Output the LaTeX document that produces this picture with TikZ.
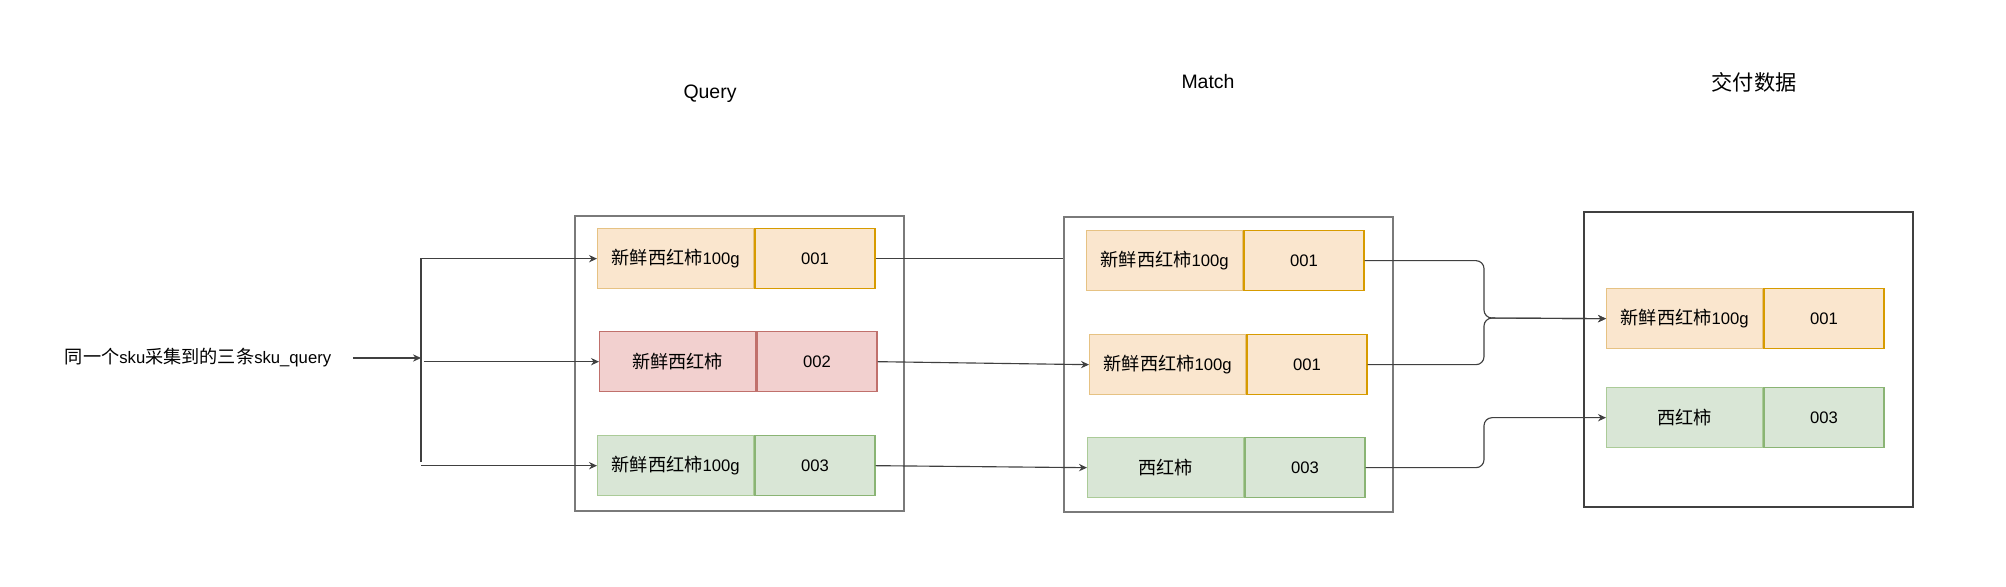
\documentclass[tikz,border=0pt]{standalone}
\usepackage{fontspec}
\setmainfont{Liberation Sans}
\newfontfamily\cjk[Scale=1.09]{Noto Sans CJK SC}
\newcommand{\zh}[1]{{\cjk #1}}
\usetikzlibrary{arrows.meta,positioning}

\definecolor{orfill}{HTML}{FAE6CE}
\definecolor{ordraw}{HTML}{D79B00}
\definecolor{orlite}{HTML}{E6C283}
\definecolor{rdfill}{HTML}{F2D0CF}
\definecolor{rddraw}{HTML}{C0706C}
\definecolor{gnfill}{HTML}{D9E6D6}
\definecolor{gndraw}{HTML}{8AB474}
\definecolor{gnlite}{HTML}{ABCB98}
\definecolor{boxgray}{HTML}{7A7A7A}

\tikzset{
  txt/.style={font=\fontsize{12.5}{15}\selectfont},
  head/.style={font=\fontsize{14.6}{17}\selectfont},
  frame/.style={draw=boxgray,line width=1.5pt,minimum width=246.75pt,
    minimum height=221.25pt,anchor=north west,inner sep=0pt},
  cell/.style={txt,line width=1pt,minimum height=45pt,inner sep=0pt},
  namecell/.style={cell,minimum width=117pt,anchor=north west},
  idcell/.style={cell,minimum width=90pt,right=0pt of #1},
  orname/.style={namecell,fill=orfill,draw=orlite},
  orid/.style={idcell=#1,fill=orfill,draw=ordraw},
  rdname/.style={namecell,fill=rdfill,draw=rddraw},
  rdid/.style={idcell=#1,fill=rdfill,draw=rddraw},
  gnname/.style={namecell,fill=gnfill,draw=gnlite},
  gnid/.style={idcell=#1,fill=gnfill,draw=gndraw},
  conn/.style={draw=black!75,line width=0.85pt},
  arr/.style={conn,-{Stealth[length=6pt,width=5.5pt]}}
}

\begin{document}
\begin{tikzpicture}[x=0.75pt,y=-0.75pt]
  \useasboundingbox (0,0) rectangle (2006,586);

  % headings and source label
  \node[head] (qhead) at (710,94) {Query};
  \node[head] (mhead) at (1208,82) {Match};
  \node[head] (dhead) at (1754,82) {\zh{交付数据}};
  \node[txt,minimum width=232pt] (src) at (198,358) {\zh{同一个}sku\zh{采集到的三条}sku\_query};

  % group frames
  \node[frame] (qbox) at (574,215) {};
  \node[frame] (mbox) at (1063,216) {};
  \node[frame,draw=black!75,line width=1.2pt] (dbox) at (1583,211) {};

  % Query
  \node[orname] (q1n) at (597,228) {\zh{新鲜西红柿}100g};
  \node[orid=q1n] (q1i) {001};
  \node[rdname] (q2n) at (599,331) {\zh{新鲜西红柿}};
  \node[rdid=q2n] (q2i) {002};
  \node[gnname] (q3n) at (597,435) {\zh{新鲜西红柿}100g};
  \node[gnid=q3n] (q3i) {003};

  % Match
  \node[orname] (m1n) at (1086,230) {\zh{新鲜西红柿}100g};
  \node[orid=m1n] (m1i) {001};
  \node[orname] (m2n) at (1089,334) {\zh{新鲜西红柿}100g};
  \node[orid=m2n] (m2i) {001};
  \node[gnname] (m3n) at (1087,437) {\zh{西红柿}};
  \node[gnid=m3n] (m3i) {003};

  % delivered data
  \node[orname] (d1n) at (1606,288) {\zh{新鲜西红柿}100g};
  \node[orid=d1n] (d1i) {001};
  \node[gnname] (d2n) at (1606,387) {\zh{西红柿}};
  \node[gnid=d2n] (d2i) {003};

  % connectors
  \coordinate (bus) at (421,258);
  \coordinate (busend) at (421,462);
  \coordinate (jnc) at (1484,318);
  \draw[arr] (src.east) -- (bus |- src.east);
  \draw[conn] (bus) -- (busend);
  \draw[arr] (bus |- q1n.west) -- (q1n.west);
  \draw[arr] ([xshift=2pt]bus |- q2n.west) -- (q2n.west);
  \draw[arr] (busend |- q3n.west) -- (q3n.west);

  \draw[conn] (q1i.east) -- (q1i.east -| mbox.west);
  \draw[arr] (q2i.east) -- (m2n.west);
  \draw[arr] (q3i.east) -- (m3n.west);

  \draw[arr,rounded corners=6pt] (m1i.east) -| (jnc) -- (d1n.west);
  \draw[arr,rounded corners=6pt] (m2i.east) -| (jnc) -- (d1n.west);
  \draw[arr,rounded corners=6pt] (m3i.east) -| (jnc |- d2n.west) -- (d2n.west);
\end{tikzpicture}
\end{document}
